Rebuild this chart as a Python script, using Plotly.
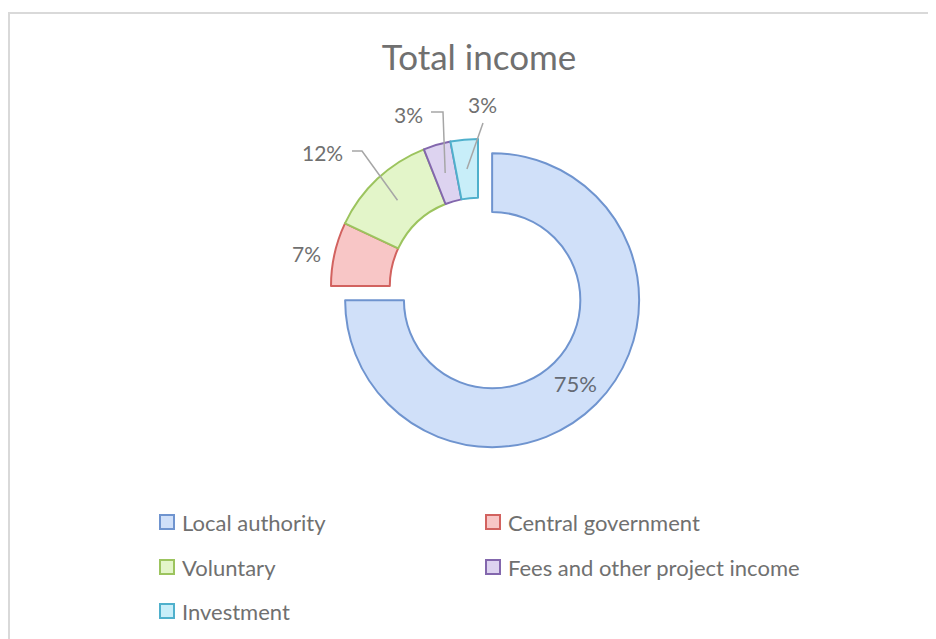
import math
import plotly.graph_objects as go

# ---- data ----
categories = ["Local authority", "Central government", "Voluntary",
              "Fees and other project income", "Investment"]
values = [75, 7, 12, 3, 3]
title_text = "Total income"

# ---- style ----
W, H = 936, 639
OFF = 8                    # page body margin offset (px)
fill_colors = ["#d0e0f9", "#f8c6c6", "#e3f5c9", "#ddd3f0", "#c8eef9"]
edge_colors = ["#6f94cf", "#d2625f", "#9cc45e", "#8367ad", "#4fb0cc"]
FONT = "Lato"
TXT = "#707070"

CX, CY = 478, 286          # ring centre (px, screen coords)
R = 147                    # outer radius (px)
PULL = 0.136
HOLE = 0.6
box = 2 * R * (1 + PULL)


def px(x):
    return (x - OFF) / W


def py(y):
    return 1 - (y - OFF) / H


fig = go.Figure()
fig.add_trace(go.Pie(
    labels=categories, values=values, sort=False, direction="clockwise",
    rotation=0, hole=HOLE, pull=[PULL, 0, 0, 0, 0],
    marker=dict(colors=fill_colors, line=dict(color=edge_colors, width=2)),
    textinfo="percent", texttemplate="%{percent:.0%}",
    textposition=["inside", "none", "none", "none", "none"],
    insidetextorientation="horizontal",
    textfont=dict(family=FONT, size=22, color="#656b75"),
    showlegend=False, hoverinfo="label+percent",
    domain=dict(x=[px(CX - box / 2), px(CX + box / 2)],
                y=[py(CY + box / 2), py(CY - box / 2)]),
))

# ---- outside labels with leader lines (anchors derived from data) ----
total = sum(values)
label_pos = {1: (306, 253), 2: (322, 153), 3: (408, 115), 4: (482, 105)}
leader_start = {2: [(352, 151), (362, 151)], 3: [(431, 112), (443, 112)], 4: [(483, 123)]}
r_anchor = R * (1 + HOLE) / 2
cum = 0
annotations = []
shapes = []
for i, v in enumerate(values):
    mid = (cum + v / 2) / total * 2 * math.pi
    cum += v
    if i == 0:
        continue
    ax = CX + r_anchor * math.sin(mid)
    ay = CY - r_anchor * math.cos(mid)
    tx, ty = label_pos[i]
    annotations.append(dict(
        x=px(tx), y=py(ty), xref="paper", yref="paper", showarrow=False,
        text=f"{round(v / total * 100)}%", xanchor="center", yanchor="middle",
        font=dict(family=FONT, size=21, color=TXT)))
    if i in leader_start:
        pts = leader_start[i] + [(ax, ay)]
        path = "M " + " L ".join(f"{px(x):.5f},{py(y):.5f}" for x, y in pts)
        shapes.append(dict(type="path", path=path, xref="paper", yref="paper",
                           line=dict(color="#a6a6a6", width=1.5)))

# ---- custom legend ----
leg_cols = [160, 486]
leg_rows = [522, 567, 611]
sq = 14
for i, name in enumerate(categories):
    x0 = leg_cols[i % 2]
    yc = leg_rows[i // 2]
    shapes.append(dict(type="rect", xref="paper", yref="paper",
                       x0=px(x0), x1=px(x0 + sq), y0=py(yc + sq / 2), y1=py(yc - sq / 2),
                       fillcolor=fill_colors[i], line=dict(color=edge_colors[i], width=2)))
    annotations.append(dict(
        x=px(x0 + sq + 6), y=py(yc), xref="paper", yref="paper", showarrow=False,
        text=name, xanchor="left", yanchor="middle",
        font=dict(family=FONT, size=22, color=TXT)))

# ---- frame lines ----
shapes.append(dict(type="line", xref="paper", yref="paper", x0=px(8), x1=1,
                   y0=py(13), y1=py(13), line=dict(color="#d9d9d9", width=2)))
shapes.append(dict(type="line", xref="paper", yref="paper", x0=px(9), x1=px(9),
                   y0=py(13), y1=0, line=dict(color="#d9d9d9", width=2)))

fig.update_layout(
    width=W, height=H, margin=dict(l=0, r=0, t=0, b=0),
    paper_bgcolor="white", plot_bgcolor="white",
    title=dict(text=title_text, x=px(479), y=py(58), xanchor="center", yanchor="middle",
               font=dict(family=FONT, size=35, color=TXT)),
    annotations=annotations, shapes=shapes,
)

fig.write_html("out.html")
